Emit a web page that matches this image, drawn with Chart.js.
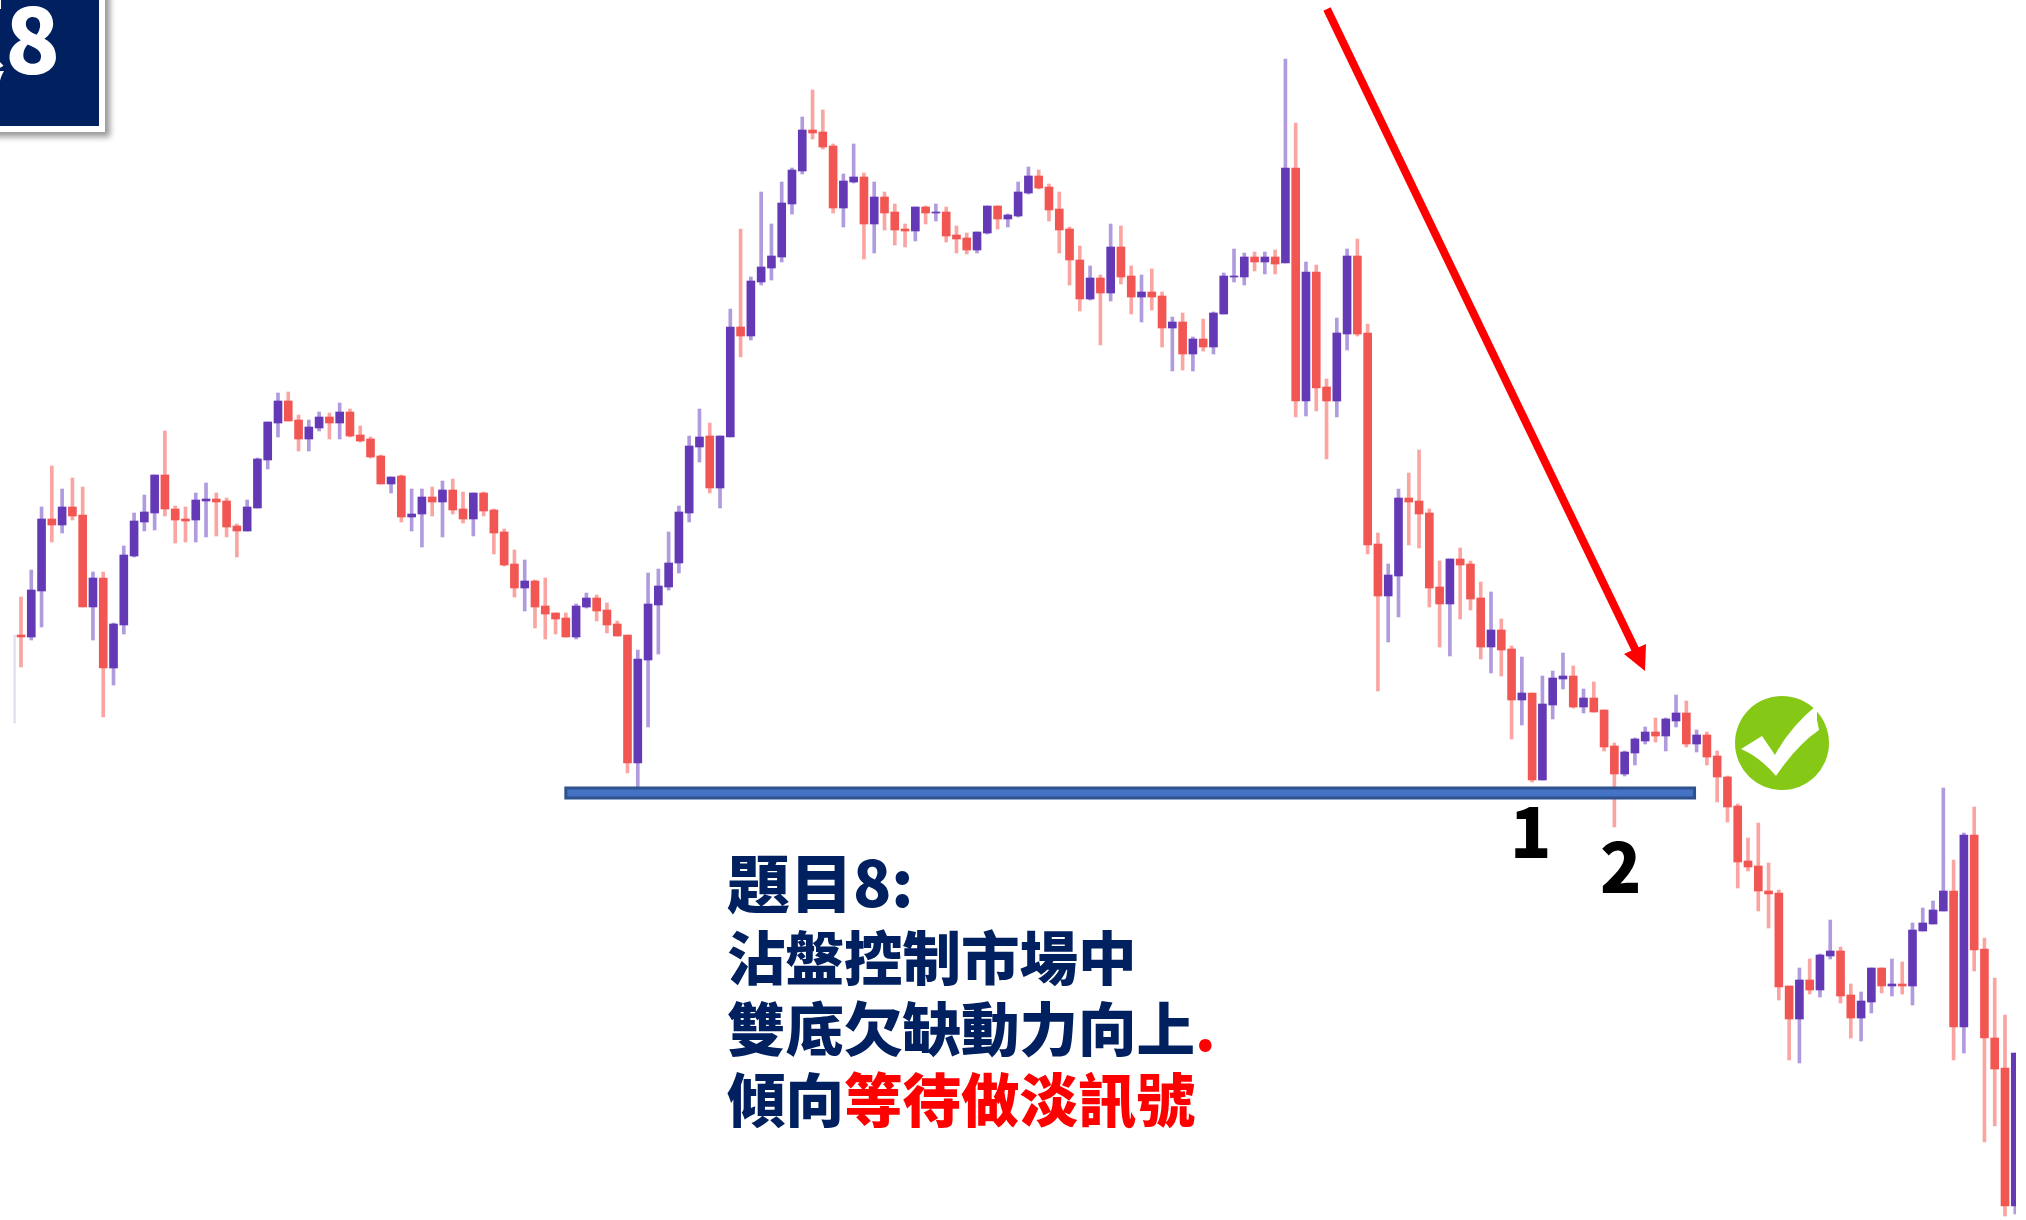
<!DOCTYPE html>
<html lang="zh-Hant">
<head>
<meta charset="utf-8">
<title>題目8</title>
<script src="https://cdn.jsdelivr.net/npm/chart.js@4/dist/chart.umd.min.js"></script>
<style>
    html, body { margin: 0; padding: 0; background: #fff; overflow: hidden; }
    #stage { position: relative; width: 2026px; height: 1220px; overflow: hidden; }
    #candles { position: absolute; left: 0; top: 0; }
    #marks { position: absolute; left: 0; top: 0; }
    .cjk { font-family: "Noto Sans CJK TC", "Noto Sans CJK SC", sans-serif; font-weight: 900; }
    #badge {
        position: absolute; left: -20px; top: -20px; width: 113px; height: 140px;
        background: #002060; border: 6px solid #fff;
        box-shadow: 5px 5px 6px rgba(0, 0, 0, 0.4); overflow: hidden;
    }
    #badge span {
        position: absolute; right: 39px; top: -16px; color: #fff;
        font-size: 90px; line-height: 130px; white-space: nowrap;
    }
    .line { position: absolute; left: 727px; color: #002060; font-size: 58.5px; line-height: 70px; white-space: nowrap; }
    .line em { font-style: normal; color: #ff0000; }
    .num { position: absolute; color: #000; font-size: 68px; line-height: 68px; }
</style>
</head>
<body>
<div id="stage">
    <canvas id="candles" width="2026" height="1220"></canvas>
    <svg id="marks" width="2026" height="1220">
        <line x1="1327" y1="9" x2="1636" y2="651" stroke="#ff0000" stroke-width="8"/>
        <polygon points="1645,671 1624,654 1646,644" fill="#ff0000"/>
        <circle cx="1782" cy="743" r="47" fill="#85c916"/>
        <path d="M1741,749 L1762,736 L1775,755 Q1790,727 1817,705 L1817,720 L1819,730 Q1797,745 1776,776 Q1760,757 1741,749 Z" fill="#fff"/>
    </svg>
    <div id="badge" class="cjk"><span>題8</span></div>
    <div class="num cjk" style="left:1510px;top:795px">1</div>
    <div class="num cjk" style="left:1600px;top:830px">2</div>
    <div class="line cjk" style="top:845px;font-size:63px">題目8:</div>
    <div class="line cjk" style="top:920px">沾盤控制市場中</div>
    <div class="line cjk" style="top:991px">雙底欠缺動力向上<em>.</em></div>
    <div class="line cjk" style="top:1062px">傾向<em>等待做淡訊號</em></div>
</div>
<script>
// top of the chart = small numbers (axis is reversed)
const highs = [
    597, 570, 507, 466, 489, 478, 487, 572, 572, 623,
    546, 513, 495, 475, 431, 506, 507, 493, 483, 493,
    498, 524, 500, 458, 422, 393, 392, 415, 420, 412,
    413, 403, 409, 426, 437, 455, 477, 475, 489, 489,
    487, 481, 479, 492, 493, 492, 509, 529, 550, 560,
    580, 578, 613, 613, 604, 593, 595, 603, 621, 635,
    650, 573, 569, 532, 506, 436, 409, 423, 436, 309,
    229, 277, 192, 224, 182, 168, 117, 90, 110, 144,
    174, 144, 173, 182, 192, 204, 224, 207, 206, 204,
    207, 226, 233, 232, 206, 206, 214, 182, 167, 170,
    184, 192, 227, 246, 266, 275, 224, 226, 266, 275,
    269, 292, 317, 313, 337, 319, 312, 273, 249, 253,
    252, 252, 250, 59, 123, 262, 265, 379, 318, 249,
    239, 324, 533, 564, 489, 473, 450, 509, 561, 559,
    548, 561, 582, 592, 619, 646, 657, 693, 676, 671,
    653, 666, 689, 682, 710, 743, 751, 738, 727, 718,
    718, 695, 701, 730, 732, 751, 776, 804, 838, 823,
    863, 890, 986, 968, 959, 954, 920, 947, 984, 992,
    968, 968, 959, 962, 923, 908, 901, 788, 860, 833,
    807, 938, 978, 1015, 1053
];
const bodyTops = [
    635, 590, 519, 519, 507, 507, 515, 578, 578, 624,
    555, 521, 512, 475, 475, 509, 519, 500, 499, 499,
    501, 526, 507, 459, 422, 401, 401, 420, 427, 417,
    417, 412, 412, 435, 439, 456, 477, 476, 514, 497,
    497, 490, 490, 509, 493, 493, 510, 532, 564, 581,
    581, 606, 613, 618, 606, 598, 598, 610, 624, 635,
    659, 604, 586, 563, 512, 446, 437, 436, 436, 327,
    327, 281, 267, 256, 203, 170, 130, 130, 132, 146,
    181, 177, 177, 197, 197, 212, 229, 207, 207, 212,
    212, 235, 238, 232, 206, 206, 215, 192, 176, 176,
    187, 209, 229, 260, 278, 278, 247, 247, 276, 292,
    292, 296, 322, 322, 339, 339, 313, 276, 276, 257,
    257, 257, 257, 168, 168, 272, 272, 387, 333, 256,
    256, 333, 544, 575, 498, 498, 501, 513, 587, 559,
    559, 564, 598, 630, 630, 649, 693, 693, 704, 678,
    676, 676, 698, 698, 710, 746, 752, 739, 732, 732,
    719, 713, 713, 735, 735, 756, 777, 806, 861, 866,
    891, 893, 986, 980, 980, 955, 951, 951, 995, 1001,
    968, 968, 984, 984, 930, 923, 910, 891, 891, 835,
    835, 949, 1038, 1068, 1053
];
const bodyBottoms = [
    637, 637, 591, 525, 525, 516, 607, 607, 668, 668,
    625, 556, 522, 513, 509, 520, 521, 520, 501, 502,
    527, 531, 531, 508, 460, 423, 421, 439, 439, 428,
    423, 423, 436, 441, 457, 484, 484, 517, 517, 514,
    502, 502, 510, 519, 519, 511, 533, 565, 588, 588,
    607, 614, 619, 637, 637, 607, 611, 625, 636, 763,
    763, 660, 605, 587, 563, 513, 447, 488, 488, 437,
    336, 336, 282, 268, 257, 204, 171, 133, 147, 208,
    208, 182, 224, 224, 213, 230, 231, 231, 213, 213,
    236, 239, 250, 250, 233, 219, 219, 216, 193, 188,
    210, 230, 260, 299, 299, 293, 293, 277, 297, 297,
    297, 328, 328, 354, 354, 347, 347, 314, 277, 277,
    262, 262, 264, 263, 401, 401, 388, 401, 401, 334,
    334, 545, 596, 596, 576, 502, 514, 588, 604, 604,
    565, 599, 647, 647, 650, 700, 700, 780, 780, 705,
    679, 707, 707, 712, 747, 774, 774, 753, 741, 736,
    736, 721, 744, 744, 757, 777, 807, 862, 867, 891,
    894, 987, 1019, 1019, 990, 990, 956, 996, 1018, 1018,
    1002, 986, 986, 986, 986, 931, 924, 911, 1027, 1027,
    950, 1038, 1069, 1206, 1206
];
const lows = [
    667, 640, 627, 542, 533, 520, 607, 640, 717, 685,
    634, 557, 531, 530, 516, 543, 542, 542, 537, 536,
    537, 557, 531, 508, 469, 437, 421, 451, 451, 431,
    439, 439, 437, 442, 458, 484, 493, 522, 531, 547,
    516, 537, 514, 523, 536, 516, 554, 566, 597, 611,
    628, 639, 634, 637, 639, 608, 621, 633, 636, 773,
    787, 727, 654, 590, 573, 522, 462, 493, 508, 437,
    357, 340, 285, 280, 262, 214, 174, 139, 149, 213,
    227, 183, 259, 253, 230, 245, 247, 241, 224, 221,
    242, 253, 254, 253, 234, 229, 227, 217, 194, 189,
    221, 253, 285, 311, 300, 345, 301, 284, 314, 322,
    310, 347, 371, 370, 371, 351, 354, 314, 282, 285,
    271, 274, 274, 263, 417, 416, 411, 459, 417, 350,
    336, 554, 691, 642, 617, 545, 548, 607, 647, 656,
    619, 610, 659, 673, 676, 739, 725, 782, 780, 719,
    689, 708, 713, 712, 751, 827, 776, 765, 744, 742,
    751, 727, 747, 752, 765, 802, 822, 888, 871, 911,
    928, 1000, 1060, 1063, 994, 997, 959, 1003, 1038, 1041,
    1013, 993, 996, 994, 1005, 931, 924, 911, 1060, 1053,
    971, 1142, 1126, 1216, 1214
];
// 1 = purple candle, 0 = red candle
const rising = [
    0, 1, 1, 0, 1, 0, 0, 1, 0, 1,
    1, 1, 1, 1, 0, 0, 0, 1, 1, 0,
    0, 0, 1, 1, 1, 1, 0, 0, 1, 1,
    0, 1, 0, 0, 0, 0, 1, 0, 1, 1,
    0, 1, 0, 0, 1, 0, 0, 0, 0, 1,
    0, 0, 0, 0, 1, 1, 0, 0, 0, 0,
    1, 1, 1, 1, 1, 1, 1, 0, 1, 1,
    0, 1, 1, 1, 1, 1, 1, 0, 0, 0,
    1, 1, 0, 1, 0, 0, 0, 1, 0, 1,
    0, 0, 0, 1, 1, 0, 1, 1, 1, 0,
    0, 0, 0, 0, 1, 0, 1, 0, 0, 1,
    0, 0, 1, 0, 1, 0, 1, 1, 1, 1,
    0, 1, 0, 1, 0, 1, 0, 0, 1, 1,
    0, 0, 0, 1, 1, 0, 0, 0, 0, 1,
    0, 0, 0, 1, 0, 0, 1, 0, 1, 1,
    1, 0, 1, 0, 0, 0, 1, 1, 1, 0,
    1, 1, 0, 1, 0, 0, 0, 0, 0, 0,
    0, 0, 0, 1, 0, 1, 1, 0, 0, 1,
    1, 0, 1, 0, 1, 1, 1, 1, 0, 1,
    0, 0, 0, 0, 1
];
// the blue support bar
const supportTop = 788;
const supportBottom = 798;
const supportFrom = 53;
const supportTo = 162.8;

const PURPLE = '#6439b5';
const RED = '#f25652';
const PURPLE_WICK = '#b09bdf';
const RED_WICK = '#fba5a2';

const supportBar = {
    id: 'supportBar',
    afterDatasetsDraw: (chart) => {
        const { ctx, scales: { x, y } } = chart;
        const left = x.getPixelForValue(supportFrom);
        const top = y.getPixelForValue(supportTop);
        const width = x.getPixelForValue(supportTo) - left;
        const height = y.getPixelForValue(supportBottom) - top;
        ctx.save();
        ctx.fillStyle = '#4472c4';
        ctx.strokeStyle = '#2f528f';
        ctx.lineWidth = 3;
        ctx.fillRect(left, top, width, height);
        ctx.strokeRect(left, top, width, height);
        ctx.restore();
    }
};

new Chart(document.getElementById('candles'), {
    type: 'bar',
    data: {
        datasets: [
            {
                label: 'Body',
                data: bodyTops.map((t, i) => ({ x: i, y: [t, bodyBottoms[i]] })),
                backgroundColor: rising.map(r => r ? PURPLE : RED),
                barThickness: 8
            },
            {
                label: 'Wick',
                data: highs.map((h, i) => ({ x: i, y: [h, lows[i]] })),
                backgroundColor: rising.map(r => r ? PURPLE_WICK : RED_WICK),
                barThickness: 3
            },
            {
                // the cut-off candle at the left edge, only a faint line is left of it
                label: 'Edge',
                data: [{ x: -0.62, y: [635, 723] }],
                backgroundColor: '#e6e1f6',
                barThickness: 2
            }
        ]
    },
    options: {
        responsive: false,
        animation: false,
        events: [],
        layout: { padding: { left: 13, right: 10, top: 0, bottom: 0 } },
        datasets: { bar: { grouped: false } },
        plugins: { legend: { display: false }, tooltip: { enabled: false } },
        scales: {
            x: { type: 'linear', display: false, offset: false, min: -0.778, max: 194.07 },
            y: { type: 'linear', display: false, reverse: true, min: 0, max: 1220 }
        }
    },
    plugins: [supportBar]
});
</script>
</body>
</html>
